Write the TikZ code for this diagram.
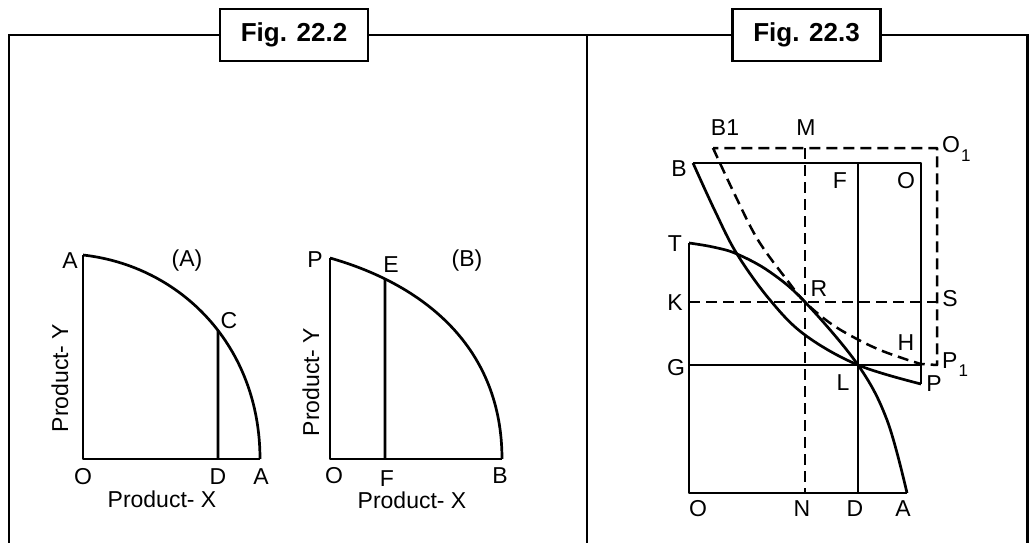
\documentclass[tikz,border=0pt]{standalone}
\usepackage{fontspec}
\setmainfont{Liberation Sans}
\usetikzlibrary{intersections}
\begin{document}
\begin{tikzpicture}[x=1pt,y=-1pt,
  frame/.style={line width=2.8pt},
  ln/.style={line width=2.7pt, line join=round},
  dsh/.style={line width=2.5pt, dash pattern=on 11pt off 6pt, line join=round},
  lbl/.style={font=\fontsize{23}{25}\selectfont, inner sep=0pt},
  figtitle/.style={draw, line width=2.8pt, font=\fontsize{26}{28}\selectfont\bfseries,
    minimum width=148pt, minimum height=52pt, inner sep=0pt, fill=white}]
\useasboundingbox (0,0) rectangle (1029,543);

% ---------- frame ----------
\node[figtitle] (t1) at (294,35) {Fig. 22.2};
\node[figtitle] (t2) at (806.5,35) {Fig. 22.3};
\coordinate (fl) at (9,35);
\coordinate (flb) at (9,543);
\coordinate (fm) at (587,35);
\coordinate (fmb) at (587,543);
\coordinate (fr) at (1027.5,35);
\coordinate (frb) at (1027.5,543);
\draw[frame] (t1.west) -- (fl) -- (flb);
\draw[frame] (t1.east) -- (t2.west);
\draw[frame] (t2.east) -- (fr) -- (frb);
\draw[frame] (fm) -- (fmb);

% ---------- panel (A) ----------
\coordinate (OA) at (83,459);
\coordinate (AT) at (83,255);
\coordinate (AB) at (260,459);
\coordinate (DA) at (218,459);
\draw[ln, name path=ppcA] (AT) .. controls (181,266) and (260,346) .. (AB);
\path[name path=vA] (218,470) -- (218,200);
\path[name intersections={of=ppcA and vA, by=CA}];
\draw[ln] (AT) -- (OA) -- (AB);
\draw[ln] (DA) -- (CA);
\node[lbl] (lAt) at (70,261) {A};
\node[lbl] (lAA) at (187,261) {(A)};
\node[lbl] (lC) at (229,321) {C};
\node[lbl] (lOA) at (83,477) {O};
\node[lbl] (lDA) at (218,477) {D};
\node[lbl] (lAb) at (261,477) {A};
\node[lbl] (lxA) at (162,499) {Product- X};
\node[lbl, rotate=90] (lyA) at (60,378) {Product- Y};

% ---------- panel (B) ----------
\coordinate (OB) at (330,459);
\coordinate (PT) at (330,258);
\coordinate (BB) at (502,459);
\coordinate (FB) at (385,459);
\draw[ln, name path=ppcB] (PT) .. controls (425,285) and (502,348) .. (BB);
\path[name path=vB] (385,470) -- (385,200);
\path[name intersections={of=ppcB and vB, by=EB}];
\draw[ln] (PT) -- (OB) -- (BB);
\draw[ln] (FB) -- (EB);
\node[lbl] (lP) at (315,260) {P};
\node[lbl] (lE) at (391,265) {E};
\node[lbl] (lBB) at (467,261) {(B)};
\node[lbl] (lOB) at (334,476) {O};
\node[lbl] (lFB) at (387,479) {F};
\node[lbl] (lBb) at (500,476) {B};
\node[lbl] (lxB) at (412,500) {Product- X};
\node[lbl, rotate=90] (lyB) at (311,382) {Product- Y};

% ---------- Fig. 22.3 ----------
\coordinate (O2) at (689,493);
\coordinate (A2) at (907,493);
\coordinate (N2) at (805,493);
\coordinate (D2) at (858,493);
\coordinate (T2) at (689,243);
\coordinate (G2) at (689,365);
\coordinate (K2) at (689,302);
\coordinate (B2) at (693,163);
\coordinate (Otop) at (921,163);
\coordinate (F2) at (858,163);
\coordinate (P2) at (921,384);
\coordinate (L2) at (858,365);
\coordinate (GE) at (921,365);
\coordinate (B12) at (713,148);
\coordinate (O12) at (937,148);
\coordinate (P12) at (937,365);
\coordinate (M2) at (805,148);
\coordinate (S2) at (937,302);
\coordinate (R2) at (805,302);

% solid box lines
\draw[ln] (T2) -- (O2) -- (A2);
\draw[ln] (G2) -- (GE);
\draw[ln] (F2) -- (D2);
\draw[ln] (B2) -- (Otop) -- (P2);
% dashed lines
\draw[dsh] (M2) -- (N2);
\draw[dsh] (K2) -- (S2);
\draw[dsh] plot[smooth, tension=0.6] coordinates {(713,148) (735,195) (758,240) (787,280) (805,302) (830,323) (855,338) (880,350) (905,359) (921,364)}
  -- (P12) -- (O12) -- cycle;
% curves
\draw[ln] plot[smooth, tension=0.6] coordinates {(693,163) (715,211) (737,254) (770,300) (805,335) (858,365) (921,384)};
\draw[ln] plot[smooth, tension=0.6] coordinates {(689,243) (713,247) (737,254) (770,272) (805,302) (858,365) (887,420) (907,493)};

% labels
\node[lbl] (lB1) at (725,128) {B1};
\node[lbl] (lM) at (806,128) {M};
\node[lbl, anchor=base west] (lO1) at (942,153) {O\kern1pt\raisebox{-9pt}{\fontsize{17}{17}\selectfont 1}};
\node[lbl] (lB2) at (679,169) {B};
\node[lbl] (lF2) at (840,181) {F};
\node[lbl] (lO2t) at (906,181) {O};
\node[lbl] (lT) at (675,244) {T};
\node[lbl] (lR) at (819,289) {R};
\node[lbl] (lK) at (675,303) {K};
\node[lbl] (lS) at (950,299) {S};
\node[lbl] (lH) at (906,343) {H};
\node[lbl, anchor=base west] (lP1) at (942,368) {P\kern1pt\raisebox{-8pt}{\fontsize{17}{17}\selectfont 1}};
\node[lbl] (lG) at (676,368) {G};
\node[lbl] (lL) at (843,383) {L};
\node[lbl] (lP2) at (934,384) {P};
\node[lbl] (lO2) at (698,509) {O};
\node[lbl] (lN) at (802,509) {N};
\node[lbl] (lD2) at (855,509) {D};
\node[lbl] (lA2) at (903,509) {A};
\end{tikzpicture}
\end{document}
